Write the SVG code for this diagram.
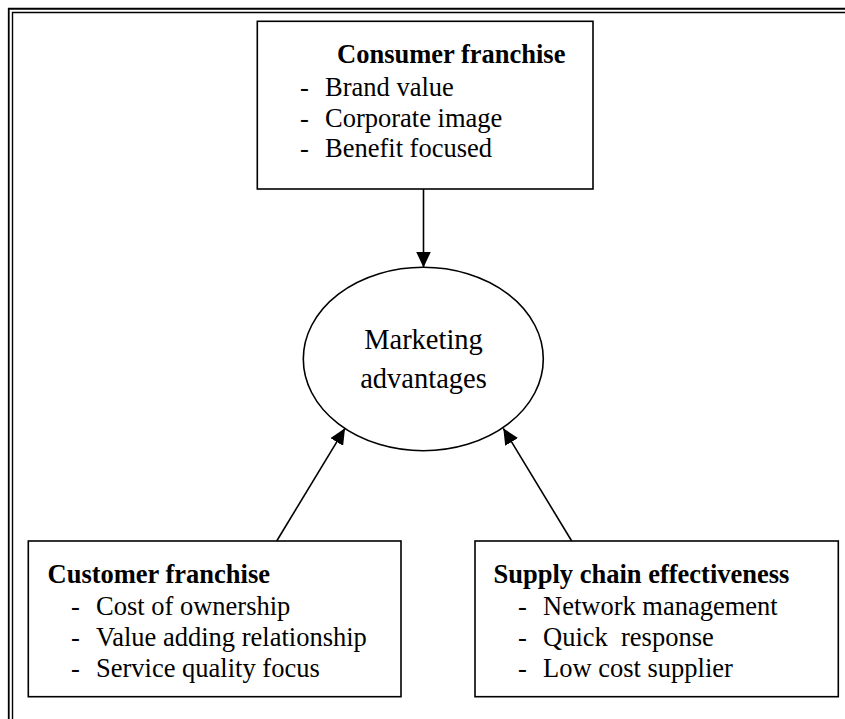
<svg xmlns="http://www.w3.org/2000/svg" width="845" height="719" viewBox="0 0 845 719">
<style>
  .frame { fill: none; stroke: #000; }
  .box { fill: #fff; stroke: #000; stroke-width: 1.6; }
  .t { font-family: "Liberation Serif", "Times New Roman", serif; font-size: 26.5px; fill: #000; }
  .b { font-weight: bold; }
  .m { font-family: "Liberation Serif", "Times New Roman", serif; font-size: 28.5px; fill: #000; text-anchor: middle; }
  .conn { stroke: #000; stroke-width: 1.6; fill: none; marker-end: url(#arrow); }
</style>
<defs>
  <marker id="arrow" viewBox="0 0 16 15" refX="16" refY="7.5" markerWidth="16" markerHeight="15" markerUnits="userSpaceOnUse" orient="auto">
    <path d="M0,0 L16,7.5 L0,15 Z" fill="#000"/>
  </marker>
</defs>
<rect width="845" height="719" fill="#fff"/>
<g id="frame">
  <path class="frame" d="M8.75,719 V8.75 H845" stroke-width="1.8"/>
  <path class="frame" d="M12.5,719 V12.5 H845" stroke-width="1.4"/>
</g>
<g id="connectors">
  <line class="conn" x1="423.5" y1="189" x2="423.5" y2="267.5"/>
  <line class="conn" x1="276.7" y1="541" x2="345" y2="428.3"/>
  <line class="conn" x1="571.7" y1="541" x2="503.3" y2="428.3"/>
</g>
<g id="consumer-franchise">
  <rect class="box" x="257.3" y="21.3" width="335.7" height="167.7"/>
  <text class="t b" x="337" y="63.3">Consumer franchise</text>
  <text class="t" x="300" y="95.8">-</text><text class="t" x="325" y="95.8">Brand value</text>
  <text class="t" x="300" y="126.5">-</text><text class="t" x="325" y="126.5">Corporate image</text>
  <text class="t" x="300" y="156.8">-</text><text class="t" x="325" y="156.8">Benefit focused</text>
</g>
<g id="marketing-advantages">
  <ellipse cx="423.3" cy="359" rx="120" ry="91.7" fill="#fff" stroke="#000" stroke-width="1.6"/>
  <text class="m" x="423.5" y="349">Marketing</text>
  <text class="m" x="423.5" y="388">advantages</text>
</g>
<g id="customer-franchise">
  <rect class="box" x="28.3" y="541" width="372.7" height="155.7"/>
  <text class="t b" x="47.5" y="582.7">Customer franchise</text>
  <text class="t" x="71" y="615">-</text><text class="t" x="96" y="615">Cost of ownership</text>
  <text class="t" x="71" y="646">-</text><text class="t" x="96" y="646">Value adding relationship</text>
  <text class="t" x="71" y="676.7">-</text><text class="t" x="96" y="676.7">Service quality focus</text>
</g>
<g id="supply-chain">
  <rect class="box" x="475" y="541" width="363.3" height="155.7"/>
  <text class="t b" x="493.5" y="582.7">Supply chain effectiveness</text>
  <text class="t" x="518" y="615">-</text><text class="t" x="543" y="615">Network management</text>
  <text class="t" x="518" y="646">-</text><text class="t" x="543" y="646" xml:space="preserve">Quick  response</text>
  <text class="t" x="518" y="676.7">-</text><text class="t" x="543" y="676.7">Low cost supplier</text>
</g>
</svg>
